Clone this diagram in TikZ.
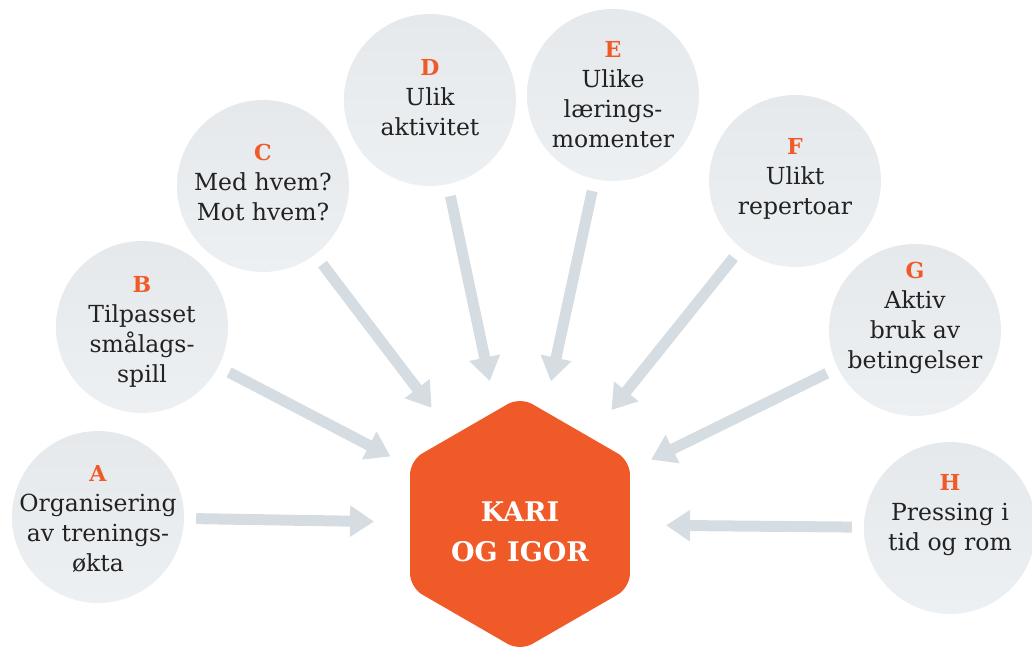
\documentclass[tikz,border=0pt]{standalone}
\usepackage{fontspec}
\setmainfont{DejaVu Serif}
\usetikzlibrary{shapes.geometric,arrows.meta}
\definecolor{kariorange}{HTML}{F05A28}
\definecolor{bubblegray}{HTML}{E5E9EC}
\definecolor{bubblelight}{HTML}{EDF0F2}
\definecolor{arrowgray}{HTML}{D6DDE2}
\definecolor{textgray}{HTML}{222222}
\newcommand{\bubbleletter}[1]{{\fontsize{22}{30}\selectfont\bfseries\color{kariorange}#1}}
\tikzset{
  bubble/.style={circle, minimum size=172pt, inner sep=0pt, top color=bubblegray, bottom color=bubblelight, draw=none},
  bubbletext/.style={align=center, text=textgray, font=\fontsize{23.5}{30}\selectfont},
  hexnode/.style={regular polygon, regular polygon sides=6, shape border rotate=30, minimum size=254pt, inner sep=0pt, rounded corners=14pt, fill=kariorange},
  feed/.style={draw=arrowgray, line width=11pt, -{Triangle[width=30pt,length=24pt]}, shorten <=12pt, shorten >=146pt}
}
\begin{document}
\begin{tikzpicture}[x=1pt,y=-1pt]
\useasboundingbox (0,0) rectangle (1032,652);

\node[hexnode] (kari) at (520,524) {};
\node[text=white, align=center, font=\fontsize{27}{40}\selectfont\bfseries] (karitext) at (520,532) {KARI\\OG IGOR};

\node[bubble] (A) at (98,517) {};
\node[bubble] (B) at (142,327) {};
\node[bubble] (C) at (263,186) {};
\node[bubble] (D) at (430,100) {};
\node[bubble] (E) at (613,95) {};
\node[bubble] (F) at (795,181) {};
\node[bubble] (G) at (915,330) {};
\node[bubble] (H) at (950,528) {};

\node[bubbletext] (tA) at (98,519) {\bubbleletter{A}\\Organisering\\av trenings-\\økta};
\node[bubbletext] (tB) at (142,332) {\bubbleletter{B}\\Tilpasset\\smålags-\\spill};
\node[bubbletext] (tC) at (263,183) {\bubbleletter{C}\\Med hvem?\\Mot hvem?};
\node[bubbletext] (tD) at (430,98) {\bubbleletter{D}\\Ulik\\aktivitet};
\node[bubbletext] (tE) at (613,95) {\bubbleletter{E}\\Ulike\\lærings-\\momenter};
\node[bubbletext] (tF) at (795,179) {\bubbleletter{F}\\Ulikt\\repertoar};
\node[bubbletext] (tG) at (915,318) {\bubbleletter{G}\\Aktiv\\bruk av\\betingelser};
\node[bubbletext] (tH) at (950,515) {\bubbleletter{H}\\Pressing i\\tid og rom};

\draw[feed] (A) -- (kari.center);
\draw[feed] (B) -- (kari.center);
\draw[feed] (C) -- (kari.center);
\draw[feed] (D) -- (kari.center);
\draw[feed] (E) -- (kari.center);
\draw[feed] (F) -- (kari.center);
\draw[feed] (G) -- (kari.center);
\draw[feed] (H) -- (kari.center);

\end{tikzpicture}
\end{document}
